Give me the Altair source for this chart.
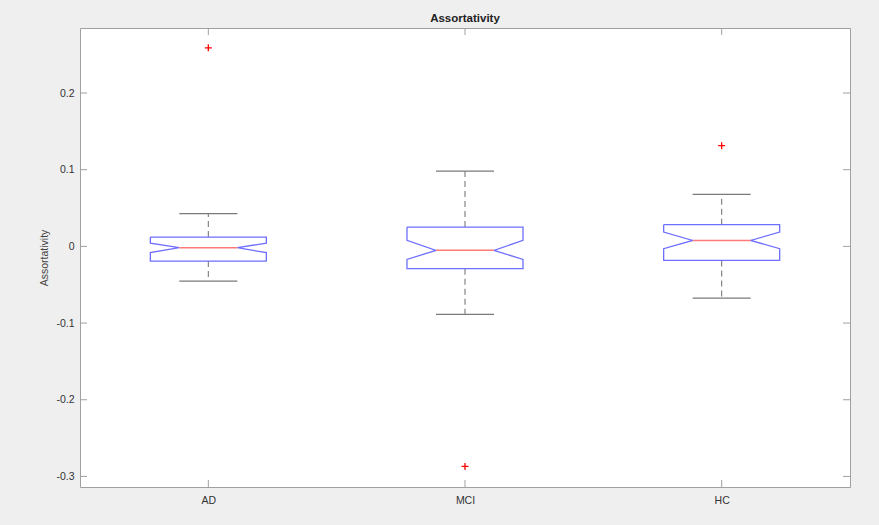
import altair as alt
import pandas as pd

# ---- data ----
groups = ["AD", "MCI", "HC"]
positions = [1, 2, 3]
whisker_low = [-0.0453, -0.0887, -0.0674]
q1 = [-0.0192, -0.0291, -0.0183]
notch_low = [-0.0082, -0.0170, -0.0030]
median = [-0.0017, -0.0052, 0.0078]
notch_high = [0.0043, 0.0078, 0.0187]
q3 = [0.0121, 0.0252, 0.0283]
whisker_high = [0.0427, 0.0982, 0.0678]
outlier_group = ["AD", "MCI", "HC"]
outlier_value = [0.259, -0.287, 0.1313]
y_ticks = [-0.3, -0.2, -0.1, 0, 0.1, 0.2]
y_domain = [-0.3138, 0.2848]
x_domain = [0.5, 3.5]

# ---- styles ----
BOX_HALF = 0.226
NOTCH_HALF = BOX_HALF / 2
CAP_HALF = BOX_HALF / 2
W, H = 770, 459
FONT = "Liberation Sans"
FRAME = "#a0a0a0"

stats = pd.DataFrame({
    "group": groups, "pos": positions, "wl": whisker_low, "q1": q1,
    "nlo": notch_low, "med": median, "nhi": notch_high, "q3": q3,
    "wh": whisker_high,
})
stats["cap_l"] = stats["pos"] - CAP_HALF
stats["cap_r"] = stats["pos"] + CAP_HALF
stats["med_l"] = stats["pos"] - NOTCH_HALF
stats["med_r"] = stats["pos"] + NOTCH_HALF

rows = []
for _, r in stats.iterrows():
    p = r["pos"]
    pts = [
        (p - BOX_HALF, r["q3"]), (p + BOX_HALF, r["q3"]), (p + BOX_HALF, r["nhi"]),
        (p + NOTCH_HALF, r["med"]), (p + BOX_HALF, r["nlo"]), (p + BOX_HALF, r["q1"]),
        (p - BOX_HALF, r["q1"]), (p - BOX_HALF, r["nlo"]), (p - NOTCH_HALF, r["med"]),
        (p - BOX_HALF, r["nhi"]), (p - BOX_HALF, r["q3"]),
    ]
    for i, (x, y) in enumerate(pts):
        rows.append({"group": r["group"], "order": i, "x": x, "y": y})
outline = pd.DataFrame(rows)

pos_of = dict(zip(groups, positions))
outliers = pd.DataFrame({"group": outlier_group, "value": outlier_value})
outliers["pos"] = outliers["group"].map(pos_of)

yticks_df = pd.DataFrame({"v": y_ticks})
xticks_df = pd.DataFrame({"pos": positions})

xs = alt.Scale(domain=x_domain, nice=False, zero=False)
ys = alt.Scale(domain=y_domain, nice=False, zero=False)

label_expr = "[" + ",".join("'%s'" % g for g in groups) + "][datum.value - 1]"

x_axis = alt.Axis(values=positions, labelExpr=label_expr, title=None, ticks=False,
                  domain=False, grid=False, labelPadding=8, labelFontSize=10.5,
                  labelFont=FONT, labelColor="#333333")
y_axis = alt.Axis(values=y_ticks, labelExpr="toString(round(datum.value*10)/10)",
                  title="Assortativity", ticks=False, domain=False, grid=False,
                  labelPadding=6, labelFontSize=10.5, labelFont=FONT,
                  labelColor="#333333", titleFont=FONT, titleFontSize=10.5,
                  titleFontWeight="normal", titleColor="#444444", titlePadding=6)


def X(field):
    return alt.X(field, scale=xs, axis=x_axis)


def Y(field):
    return alt.Y(field, scale=ys, axis=y_axis)


whiskers_up = alt.Chart(stats).mark_rule(color="#7a7a7a", strokeWidth=1.1,
                                          strokeDash=[6, 4]).encode(
    x=X("pos:Q"), y=Y("q3:Q"), y2="wh:Q")
whiskers_dn = alt.Chart(stats).mark_rule(color="#7a7a7a", strokeWidth=1.1,
                                          strokeDash=[6, 4]).encode(
    x=X("pos:Q"), y=Y("q1:Q"), y2="wl:Q")
caps_up = alt.Chart(stats).mark_rule(color="#7a7a7a", strokeWidth=1.2).encode(
    x=X("cap_l:Q"), x2="cap_r:Q", y=Y("wh:Q"))
caps_dn = alt.Chart(stats).mark_rule(color="#7a7a7a", strokeWidth=1.2).encode(
    x=X("cap_l:Q"), x2="cap_r:Q", y=Y("wl:Q"))
boxes = alt.Chart(outline).mark_line(color="#6f6fff", strokeWidth=1.3,
                                     strokeJoin="miter").encode(
    x=X("x:Q"), y=Y("y:Q"), detail="group:N", order="order:Q")
medians = alt.Chart(stats).mark_rule(color="#ff7a7a", strokeWidth=1.5).encode(
    x=X("med_l:Q"), x2="med_r:Q", y=Y("med:Q"))
outlier_pts = alt.Chart(outliers).mark_point(
    shape="M-1,0L1,0M0,-1L0,1", filled=False, color="#ff0000",
    strokeWidth=1.3, size=49, opacity=1,
).encode(x=X("pos:Q"), y=Y("value:Q"))

TICK = 7
tick_l = alt.Chart(yticks_df).mark_rule(color=FRAME, strokeWidth=1).encode(
    y=Y("v:Q"), x=alt.value(0), x2=alt.value(TICK))
tick_r = alt.Chart(yticks_df).mark_rule(color=FRAME, strokeWidth=1).encode(
    y=Y("v:Q"), x=alt.value(W - TICK), x2=alt.value(W))
tick_b = alt.Chart(xticks_df).mark_rule(color=FRAME, strokeWidth=1).encode(
    x=X("pos:Q"), y=alt.value(H - TICK), y2=alt.value(H))
tick_t = alt.Chart(xticks_df).mark_rule(color=FRAME, strokeWidth=1).encode(
    x=X("pos:Q"), y=alt.value(0), y2=alt.value(TICK))

chart = alt.layer(
    whiskers_up, whiskers_dn, caps_up, caps_dn, boxes, medians, outlier_pts,
    tick_l, tick_r, tick_b, tick_t,
).properties(
    width=W, height=H,
    title=alt.TitleParams("Assortativity", font=FONT, fontSize=11.5,
                          fontWeight="bold", color="#222222", offset=3),
    autosize=alt.AutoSizeParams(type="none"),
    padding={"left": 80, "top": 28, "right": 29, "bottom": 38},
    background="#efefef",
).configure_view(
    fill="white", stroke=FRAME, strokeWidth=1,
)

chart.save("out.html", embed_options={"renderer": "svg", "actions": False})
